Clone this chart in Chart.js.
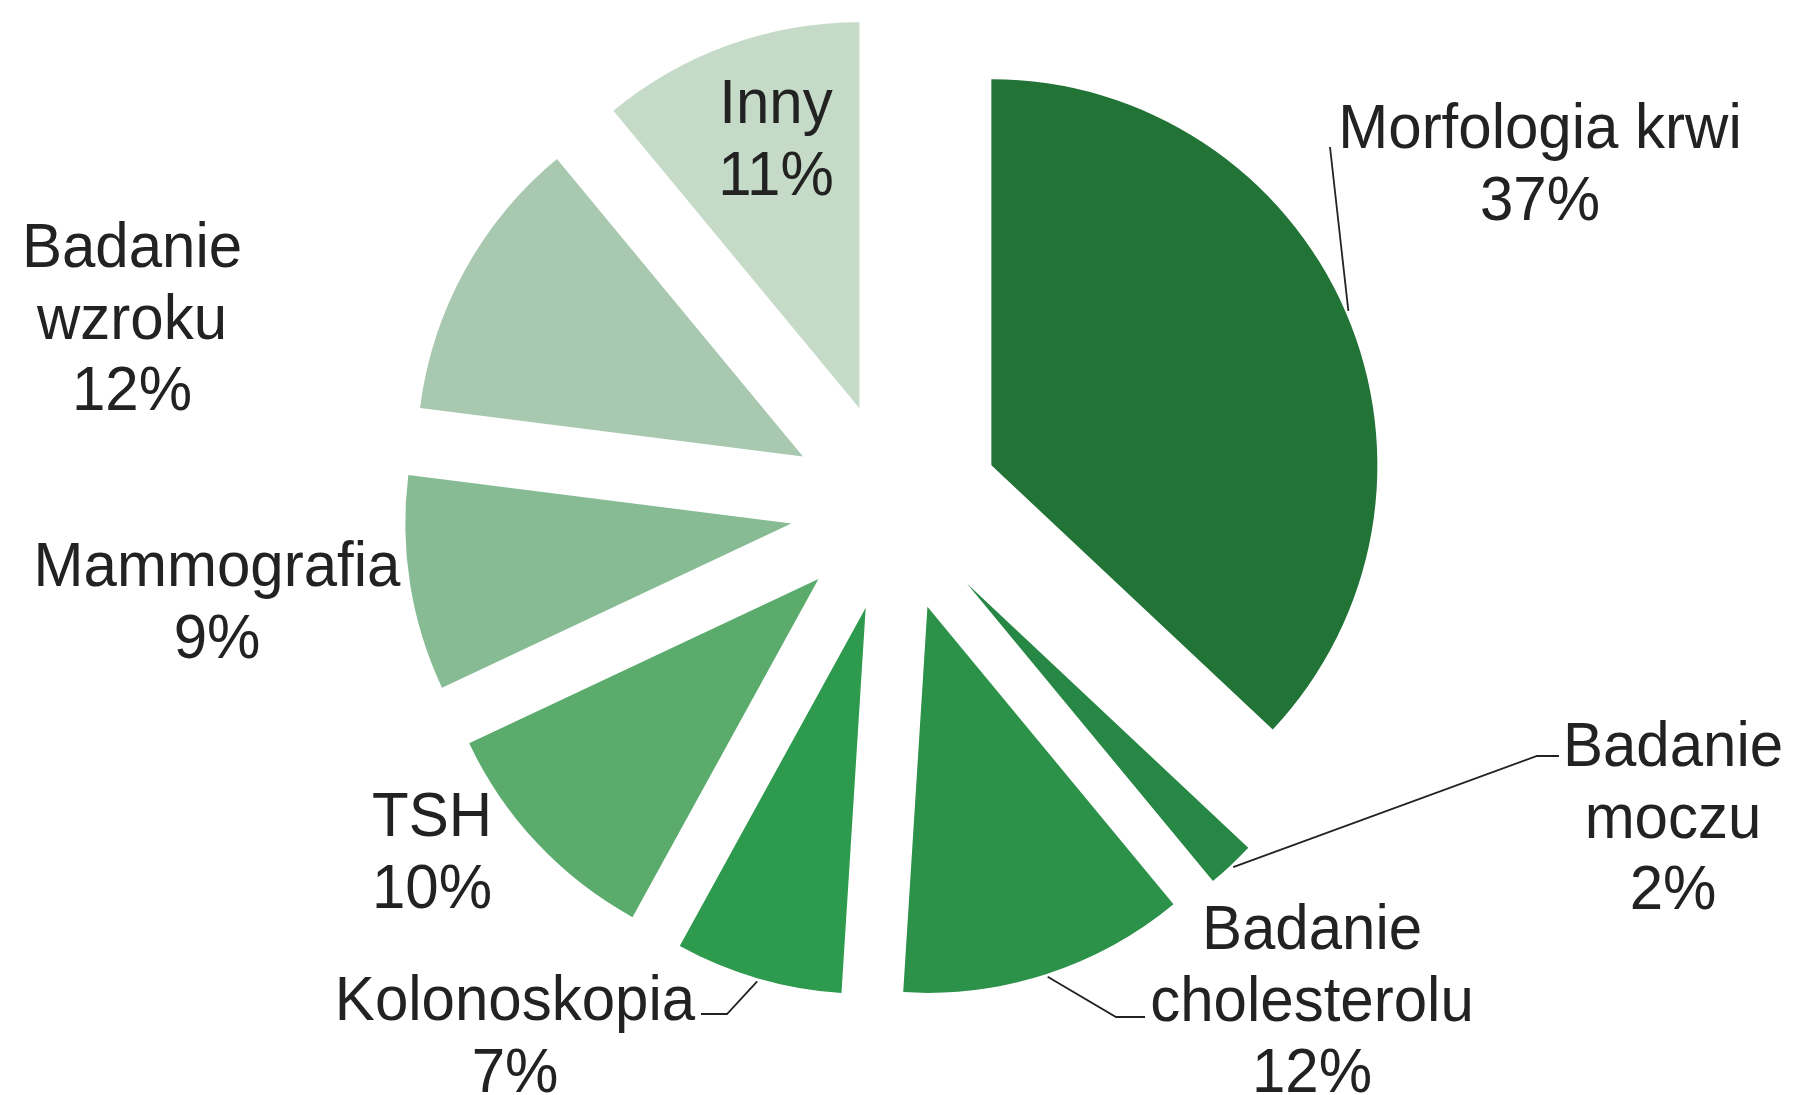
<!DOCTYPE html>
<html>
<head>
<meta charset="utf-8">
<style>
  html, body { margin: 0; padding: 0; background: #ffffff; }
  #wrap { width: 1795px; height: 1095px; position: relative; }
</style>
<script src="https://cdn.jsdelivr.net/npm/chart.js@4.4.1/dist/chart.umd.min.js"></script>
</head>
<body>
<div id="wrap"><canvas id="c" width="1795" height="1095"></canvas></div>
<script>
// ---- data ----
const categories = ['Morfologia krwi', 'Badanie moczu', 'Badanie cholesterolu', 'Kolonoskopia', 'TSH', 'Mammografia', 'Badanie wzroku', 'Inny'];
const values = [37, 2, 12, 7, 10, 9, 12, 11];
const labelLines = [['Morfologia krwi'], ['Badanie', 'moczu'], ['Badanie', 'cholesterolu'], ['Kolonoskopia'], ['TSH'], ['Mammografia'], ['Badanie', 'wzroku'], ['Inny']];

// ---- styles ----
const colors = ['#217336', '#278744', '#2c9149', '#2e9a4d', '#5aab6c', '#86bb93', '#a8c9af', '#c5dbc8'];
const explode = [105, 105, 105, 105, 105, 105, 105, 105];
const pieRadius = 386;
const fontSize = 60;
const lineH = 71.5;
// label placement: centre x, first baseline y, optional leader path points (after the arc point)
const labelLayout = [
  { x: 1540, y: 148, lead: [[1330, 147]] },
  { x: 1673, y: 766, lead: [[1537, 756], [1559, 756]] },
  { x: 1312, y: 949, lead: [[1116, 1017], [1145, 1017]] },
  { x: 515, y: 1020, lead: [[727, 1014], [701, 1014]] },
  { x: 432, y: 836 },
  { x: 217, y: 586 },
  { x: 132, y: 267 },
  { x: 776, y: 123 }
];

const explodePlugin = {
  id: 'explodeSlices',
  afterDatasetsUpdate(chart) {
    const meta = chart.getDatasetMeta(0);
    meta.data.forEach((arc, i) => {
      const mid = (arc.startAngle + arc.endAngle) / 2;
      arc.x += explode[i] * Math.cos(mid);
      arc.y += explode[i] * Math.sin(mid);
    });
  }
};

const labelPlugin = {
  id: 'sliceLabels',
  afterDraw(chart) {
    const ctx = chart.ctx;
    const meta = chart.getDatasetMeta(0);
    ctx.save();
    ctx.fillStyle = '#222222';
    ctx.strokeStyle = '#222222';
    ctx.lineWidth = 1.8;
    meta.data.forEach((arc, i) => {
      const L = labelLayout[i];
      if (L.lead) {
        const mid = (arc.startAngle + arc.endAngle) / 2;
        const r = arc.outerRadius + 3;
        ctx.beginPath();
        ctx.moveTo(arc.x + r * Math.cos(mid), arc.y + r * Math.sin(mid));
        L.lead.forEach(p => ctx.lineTo(p[0], p[1]));
        ctx.stroke();
      }
      const lines = labelLines[i].concat([values[i] + '%']);
      lines.forEach((t, k) => {
        ctx.save();
        ctx.translate(L.x, L.y + k * lineH);
        ctx.scale(1, 1.06);
        ctx.font = fontSize + 'px "Liberation Sans", Arial, sans-serif';
        ctx.textAlign = 'center';
        ctx.textBaseline = 'alphabetic';
        ctx.fillText(t, 0, 0);
        ctx.restore();
      });
    });
    ctx.restore();
  }
};

new Chart(document.getElementById('c'), {
  type: 'pie',
  data: {
    labels: categories,
    datasets: [{
      data: values,
      backgroundColor: colors,
      borderWidth: 0
    }]
  },
  options: {
    responsive: false,
    animation: false,
    events: [],
    radius: pieRadius,
    layout: { padding: { left: 0, right: 5, top: 0, bottom: 81 } },
    plugins: {
      legend: { display: false },
      tooltip: { enabled: false }
    }
  },
  plugins: [explodePlugin, labelPlugin]
});
</script>
</body>
</html>
